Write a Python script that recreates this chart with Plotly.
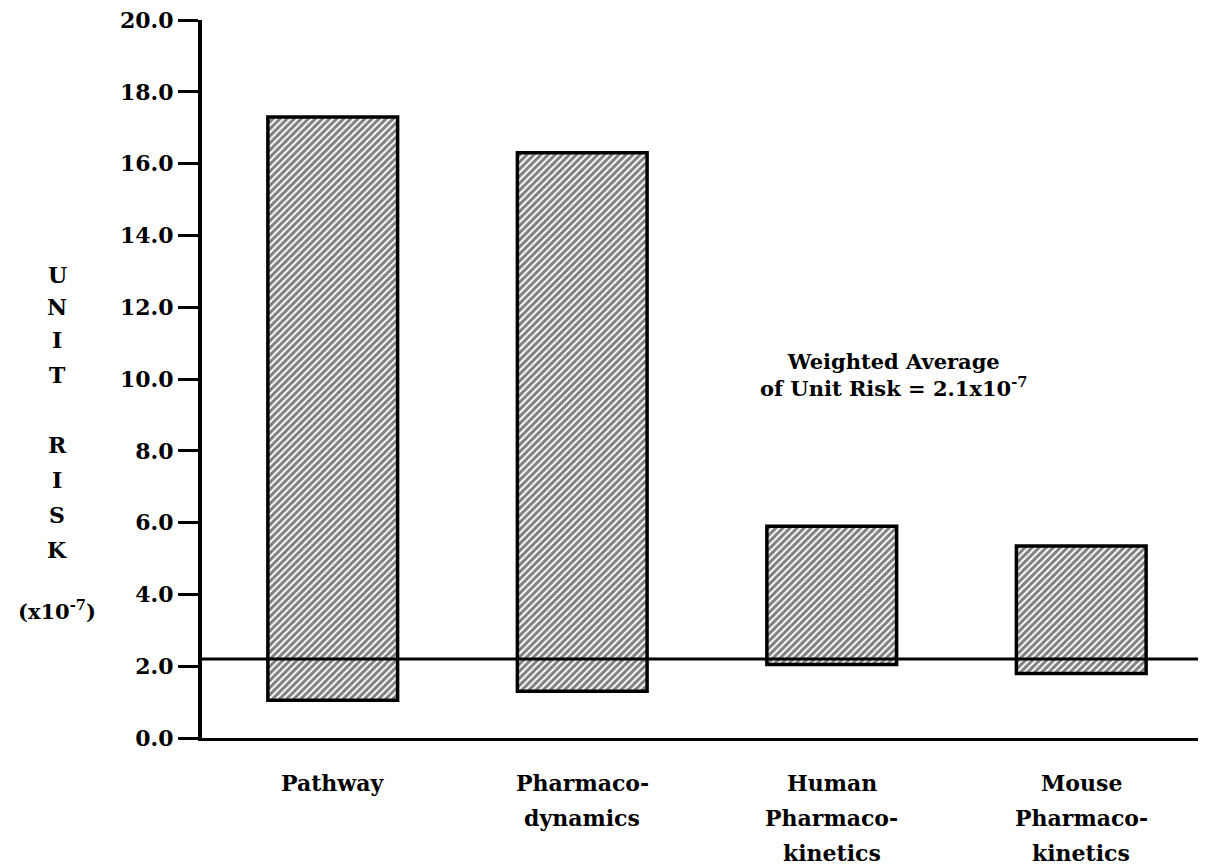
import plotly.graph_objects as go

categories = ["Pathway", "Pharmacodynamics", "Human Pharmacokinetics", "Mouse Pharmacokinetics"]
category_labels = [["Pathway"], ["Pharmaco-", "dynamics"], ["Human", "Pharmaco-", "kinetics"], ["Mouse", "Pharmaco-", "kinetics"]]
low_values = [1.05, 1.3, 2.05, 1.8]
high_values = [17.3, 16.3, 5.9, 5.35]
weighted_avg_line = 2.2
y_ticks = [0, 2, 4, 6, 8, 10, 12, 14, 16, 18, 20]
y_title_letters = ["U", "N", "I", "T", "", "R", "I", "S", "K"]

FONT = "DejaVu Serif"
x_pos = list(range(len(categories)))

fig = go.Figure()
fig.add_trace(go.Bar(
    x=x_pos,
    y=[h - l for h, l in zip(high_values, low_values)],
    base=low_values,
    width=0.52,
    marker=dict(
        color="white",
        line=dict(color="black", width=3.5),
        pattern=dict(shape="/", fgcolor="black", bgcolor="white", size=5, solidity=0.6),
    ),
    showlegend=False,
))

fig.add_shape(type="line", xref="paper", x0=0, x1=1, yref="y", y0=weighted_avg_line, y1=weighted_avg_line,
              line=dict(color="black", width=3), layer="above")

annotations = []
for i, lines in enumerate(category_labels):
    for j, txt in enumerate(lines):
        annotations.append(dict(x=x_pos[i], xref="x", y=0, yref="paper", yshift=-45 - 35 * j,
                                text=txt, showarrow=False, yanchor="middle", xanchor="center",
                                font=dict(family=FONT, size=22, color="black", weight="bold")))

letter_px = [275, 307, 340, 375, 410, 445, 480, 515, 550]
for L, py in zip(y_title_letters, letter_px):
    if L:
        annotations.append(dict(x=0, xref="paper", xshift=-145, y=0, yref="paper", yshift=738 - py,
                                text=L, showarrow=False, xanchor="center", yanchor="middle",
                                font=dict(family=FONT, size=22, color="black", weight="bold")))
annotations.append(dict(x=0, xref="paper", xshift=-145, y=0, yref="paper", yshift=738 - 610,
                        text="(x10<sup>-7</sup>)", showarrow=False, xanchor="center", yanchor="middle",
                        font=dict(family=FONT, size=21, color="black", weight="bold")))

annotations.append(dict(x=2.25, xref="x", y=10.1, yref="y",
                        text="Weighted Average<br>of Unit Risk = 2.1x10<sup>-7</sup>",
                        showarrow=False, xanchor="center", yanchor="middle", align="center",
                        font=dict(family=FONT, size=21, color="black", weight="bold")))

fig.update_layout(
    width=1198, height=857,
    margin=dict(l=194, r=0, t=12, b=127),
    plot_bgcolor="white", paper_bgcolor="white",
    annotations=annotations,
    xaxis=dict(range=[-0.524, 3.5], showticklabels=False, showgrid=False, zeroline=False,
               showline=True, linecolor="black", linewidth=3, ticks=""),
    yaxis=dict(range=[0, 20], tickvals=y_ticks, ticktext=[f"{v:.1f}" for v in y_ticks],
               showgrid=False, zeroline=False, showline=True, linecolor="black", linewidth=4,
               ticks="outside", ticklen=20, tickwidth=3, tickcolor="black",
               ticklabeloverflow="allow",
               tickfont=dict(family=FONT, size=22, color="black", weight="bold")),
)

fig.write_html("out.html")
